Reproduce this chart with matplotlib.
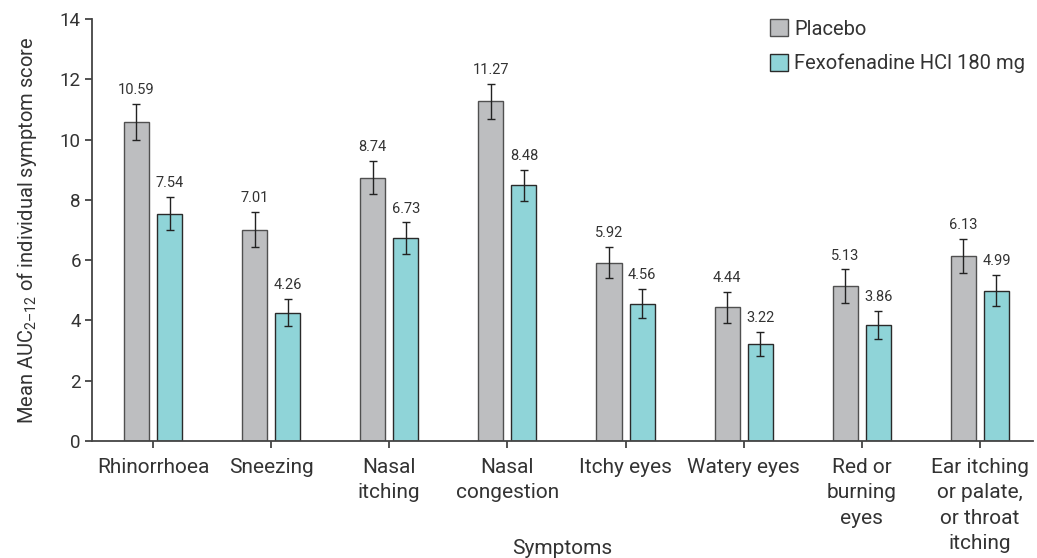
import matplotlib
matplotlib.use("Agg")
import matplotlib.pyplot as plt
import numpy as np

# Symptom categories and mean AUC(2-12) scores
symptoms = ["Rhinorrhoea", "Sneezing", "Nasal\nitching", "Nasal\ncongestion",
            "Itchy eyes", "Watery eyes", "Red or\nburning\neyes",
            "Ear itching\nor palate,\nor throat\nitching"]
placebo = [10.59, 7.01, 8.74, 11.27, 5.92, 4.44, 5.13, 6.13]
fexo = [7.54, 4.26, 6.73, 8.48, 4.56, 3.22, 3.86, 4.99]
placebo_err = [0.60, 0.58, 0.55, 0.59, 0.51, 0.51, 0.56, 0.57]
fexo_err = [0.55, 0.44, 0.52, 0.51, 0.47, 0.39, 0.46, 0.51]
series_names = ["Placebo", "Fexofenadine HCl 180 mg"]
yticks = [0, 2, 4, 6, 8, 10, 12, 14]

plt.rcParams["font.family"] = ["Roboto", "DejaVu Sans"]
plt.rcParams["mathtext.fontset"] = "custom"
plt.rcParams["mathtext.rm"] = "Roboto"
plt.rcParams["mathtext.default"] = "regular"

text_col = "#333333"
axis_col = "#444444"
grey = "#bdbec0"
teal = "#8fd4d8"

fig = plt.figure(figsize=(10.37, 5.58), dpi=100)
ax = fig.add_axes([92 / 1037, 1 - 441 / 558, (1033 - 92) / 1037, (441 - 19) / 558])

x = np.arange(len(symptoms))
w = 0.212
off = 0.14

for vals, errs, col, ec, sign, name in [
        (placebo, placebo_err, grey, "#505050", -1, series_names[0]),
        (fexo, fexo_err, teal, "#2a2a2a", 1, series_names[1])]:
    pos = x + sign * off
    ax.bar(pos, vals, width=w, color=col, edgecolor=ec, linewidth=1.0,
           label=name, zorder=2)
    ax.errorbar(pos, vals, yerr=errs, fmt="none", ecolor="#222222",
                elinewidth=1.0, capsize=3, capthick=1.0, zorder=3)
    for p, v, e in zip(pos, vals, errs):
        ax.annotate(f"{v:.2f}", (p, v + e), xytext=(0, 5), textcoords="offset points",
                    ha="center", va="bottom", fontsize=10.5, color=text_col)

ax.set_xlim(-0.516, 7.449)
ax.set_ylim(0, 14)
ax.set_yticks(yticks)
ax.set_xticks(x)
ax.set_xticklabels(symptoms, linespacing=1.43, fontsize=15)

for s in ["top", "right"]:
    ax.spines[s].set_visible(False)
for s in ["left", "bottom"]:
    ax.spines[s].set_color(axis_col)
    ax.spines[s].set_linewidth(1.3)

ax.tick_params(axis="both", colors=axis_col, labelcolor=text_col,
               length=5, width=1.3, direction="out")
ax.tick_params(axis="y", pad=3, labelsize=13.5)
ax.tick_params(axis="x", pad=7)

ax.set_ylabel("Mean AUC$_{2\u201312}$ of individual symptom score", fontsize=14.5,
              color=text_col)
ax.yaxis.set_label_coords(-0.056, 0.5)
ax.set_xlabel("Symptoms", fontsize=15, color=text_col)
ax.xaxis.set_label_coords(0.5, -0.232)

leg = ax.legend(loc="upper right", bbox_to_anchor=(1.0, 1.018), frameon=False,
                fontsize=14.5, handlelength=0.9, handleheight=0.9,
                handletextpad=0.3, labelspacing=0.75, borderaxespad=0.0)
for t in leg.get_texts():
    t.set_color(text_col)

fig.savefig("out.png", dpi=100)
